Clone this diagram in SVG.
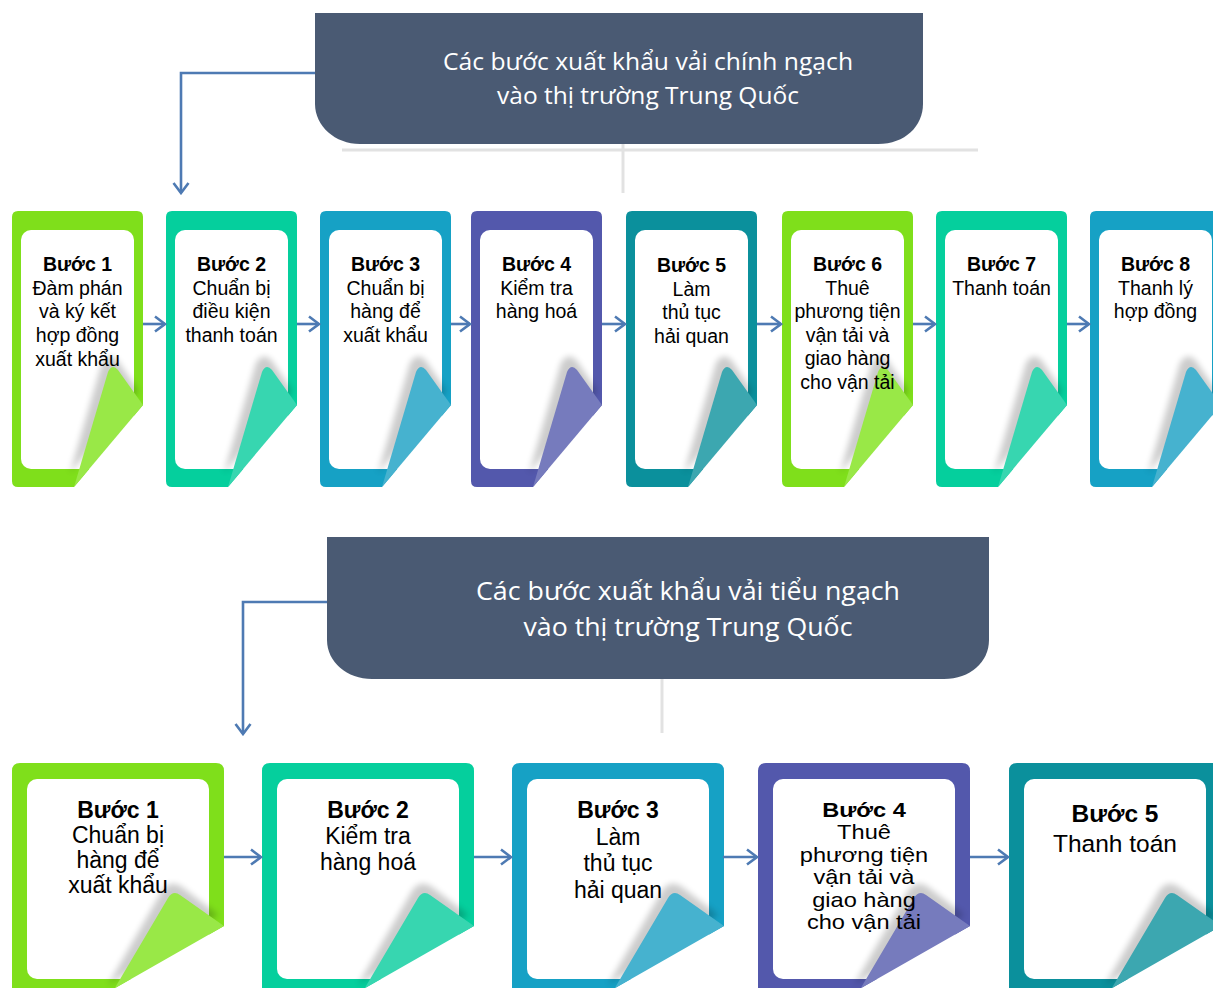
<svg xmlns="http://www.w3.org/2000/svg" width="1213" height="988" viewBox="0 0 1213 988">
<style>
.hdr{fill:#4A5A73}
.htxt{font-family:"Open Sans","Noto Sans","Liberation Sans",sans-serif;fill:#fff;text-anchor:middle}
.ct{font-family:"Liberation Sans",Arial,sans-serif;fill:#000;text-anchor:middle;font-size:19.5px}
.cb{font-family:"Liberation Sans",Arial,sans-serif;fill:#000;text-anchor:middle;font-size:23px}
.b{font-weight:bold}
.inner{fill:#fff}
.c1{fill:#7FDF1B}.f1{fill:#99E847}
.c2{fill:#05CF9D}.f2{fill:#37D6B0}
.c3{fill:#16A1C5}.f3{fill:#46B2CF}
.c4{fill:#5358AC}.f4{fill:#767BBD}
.c5{fill:#0B909C}.f5{fill:#3CA7B0}
.sh{fill:#000;opacity:.2;filter:url(#blur)}
.conn{fill:none;stroke:#4E7AB3;stroke-width:2.6}
.grey{stroke:#e2e2e2;stroke-width:3;fill:none}
</style>
<defs>
<filter id="blur" x="-50%" y="-50%" width="200%" height="200%"><feGaussianBlur stdDeviation="3"/></filter>
<marker id="chev" viewBox="-13 -9 15 18" markerWidth="15" markerHeight="18" refX="0" refY="0" orient="auto" markerUnits="userSpaceOnUse">
<path d="M-10,-7.5 L0,0 L-10,7.5" fill="none" stroke="#4E7AB3" stroke-width="2.6"/>
</marker>
<path id="tOuter" d="M6,0 H125 Q131,0 131,6 V194 L62,276 H6 Q0,276 0,270 V6 Q0,0 6,0 Z"/>
<rect id="tInner" x="9" y="19" width="113" height="239" rx="10"/>
<path id="tShadow" d="M58,262 L90,152 Q97,140 106,150 L126,180 Z"/>
<path id="tCurl" d="M62,276 L96,161 Q100,152 106,159 L131,194 Z"/>
<path id="bOuter" d="M8,0 H204 Q212,0 212,8 V163 L103,225 L77,240 H0 V8 Q0,0 8,0 Z"/>
<rect id="bInner" x="15" y="16" width="182" height="200" rx="10"/>
<path id="bShadow" d="M96,222 L150,128 Q158,116 170,124 L206,152 Z"/>
<path id="bCurl" d="M94,240 L156,135 Q161,127 168,132 L212,163 L77,240 Z"/>
</defs>

<!-- Top header -->
<g id="header-top">
<path class="grey" d="M342,150 H978"/>
<path class="grey" d="M623,144 V193"/>
<path class="hdr" d="M315,13 H923 V104 C923,126 905,144 878,144 H360 C335,144 315,126 315,104 Z"/>
<text class="htxt" x="648" y="70" font-size="24" textLength="410" lengthAdjust="spacingAndGlyphs">Các bước xuất khẩu vải chính ngạch</text>
<text class="htxt" x="648" y="104" font-size="24" textLength="302" lengthAdjust="spacingAndGlyphs">vào thị trường Trung Quốc</text>
</g>

<!-- Bottom header -->
<g id="header-bottom">
<path class="grey" d="M662,679 V733"/>
<path class="hdr" d="M327,537 H989 V640 C989,662 970,679 944,679 H372 C347,679 327,662 327,640 Z"/>
<text class="htxt" x="688" y="600" font-size="25" textLength="424" lengthAdjust="spacingAndGlyphs">Các bước xuất khẩu vải tiểu ngạch</text>
<text class="htxt" x="688" y="636" font-size="25" textLength="329" lengthAdjust="spacingAndGlyphs">vào thị trường Trung Quốc</text>
</g>

<!-- Top cards -->
<g id="t1" transform="translate(12,211)">
<use href="#tOuter" class="c1"/><use href="#tInner" class="inner"/>
<use href="#tShadow" class="sh"/><use href="#tCurl" class="f1"/>
<text class="ct" x="65.5" y="60"><tspan class="b">Bước 1</tspan><tspan x="65.5" dy="23.7">Đàm phán</tspan><tspan x="65.5" dy="23.7">và ký kết</tspan><tspan x="65.5" dy="23.7">hợp đồng</tspan><tspan x="65.5" dy="23.7">xuất khẩu</tspan></text>
</g>
<g id="t2" transform="translate(166,211)">
<use href="#tOuter" class="c2"/><use href="#tInner" class="inner"/>
<use href="#tShadow" class="sh"/><use href="#tCurl" class="f2"/>
<text class="ct" x="65.5" y="60"><tspan class="b">Bước 2</tspan><tspan x="65.5" dy="23.7">Chuẩn bị</tspan><tspan x="65.5" dy="23.7">điều kiện</tspan><tspan x="65.5" dy="23.7">thanh toán</tspan></text>
</g>
<g id="t3" transform="translate(320,211)">
<use href="#tOuter" class="c3"/><use href="#tInner" class="inner"/>
<use href="#tShadow" class="sh"/><use href="#tCurl" class="f3"/>
<text class="ct" x="65.5" y="60"><tspan class="b">Bước 3</tspan><tspan x="65.5" dy="23.7">Chuẩn bị</tspan><tspan x="65.5" dy="23.7">hàng để</tspan><tspan x="65.5" dy="23.7">xuất khẩu</tspan></text>
</g>
<g id="t4" transform="translate(471,211)">
<use href="#tOuter" class="c4"/><use href="#tInner" class="inner"/>
<use href="#tShadow" class="sh"/><use href="#tCurl" class="f4"/>
<text class="ct" x="65.5" y="60"><tspan class="b">Bước 4</tspan><tspan x="65.5" dy="23.7">Kiểm tra</tspan><tspan x="65.5" dy="23.7">hàng hoá</tspan></text>
</g>
<g id="t5" transform="translate(626,211)">
<use href="#tOuter" class="c5"/><use href="#tInner" class="inner"/>
<use href="#tShadow" class="sh"/><use href="#tCurl" class="f5"/>
<text class="ct" x="65.5" y="61"><tspan class="b">Bước 5</tspan><tspan x="65.5" dy="23.7">Làm</tspan><tspan x="65.5" dy="23.7">thủ tục</tspan><tspan x="65.5" dy="23.7">hải quan</tspan></text>
</g>
<g id="t6" transform="translate(782,211)">
<use href="#tOuter" class="c1"/><use href="#tInner" class="inner"/>
<use href="#tShadow" class="sh"/><use href="#tCurl" class="f1"/>
<text class="ct" x="65.5" y="60"><tspan class="b">Bước 6</tspan><tspan x="65.5" dy="23.5">Thuê</tspan><tspan x="65.5" dy="23.5">phương tiện</tspan><tspan x="65.5" dy="23.5">vận tải và</tspan><tspan x="65.5" dy="23.5">giao hàng</tspan><tspan x="65.5" dy="23.5">cho vận tải</tspan></text>
</g>
<g id="t7" transform="translate(936,211)">
<use href="#tOuter" class="c2"/><use href="#tInner" class="inner"/>
<use href="#tShadow" class="sh"/><use href="#tCurl" class="f2"/>
<text class="ct" x="65.5" y="60"><tspan class="b">Bước 7</tspan><tspan x="65.5" dy="23.7">Thanh toán</tspan></text>
</g>
<g id="t8" transform="translate(1090,211)">
<use href="#tOuter" class="c3"/><use href="#tInner" class="inner"/>
<use href="#tShadow" class="sh"/><use href="#tCurl" class="f3"/>
<text class="ct" x="65.5" y="60"><tspan class="b">Bước 8</tspan><tspan x="65.5" dy="23.7">Thanh lý</tspan><tspan x="65.5" dy="23.7">hợp đồng</tspan></text>
</g>

<!-- Bottom cards -->
<g id="b1" transform="translate(12,763)">
<use href="#bOuter" class="c1"/><use href="#bInner" class="inner"/>
<use href="#bShadow" class="sh"/><use href="#bCurl" class="f1"/>
<text class="cb" x="106" y="55"><tspan class="b">Bước 1</tspan><tspan x="106" dy="25">Chuẩn bị</tspan><tspan x="106" dy="25">hàng để</tspan><tspan x="106" dy="25">xuất khẩu</tspan></text>
</g>
<g id="b2" transform="translate(262,763)">
<use href="#bOuter" class="c2"/><use href="#bInner" class="inner"/>
<use href="#bShadow" class="sh"/><use href="#bCurl" class="f2"/>
<text class="cb" x="106" y="55"><tspan class="b">Bước 2</tspan><tspan x="106" dy="26">Kiểm tra</tspan><tspan x="106" dy="26">hàng hoá</tspan></text>
</g>
<g id="b3" transform="translate(512,763)">
<use href="#bOuter" class="c3"/><use href="#bInner" class="inner"/>
<use href="#bShadow" class="sh"/><use href="#bCurl" class="f3"/>
<text class="cb" x="106" y="55"><tspan class="b">Bước 3</tspan><tspan x="106" dy="26.5">Làm</tspan><tspan x="106" dy="26.5">thủ tục</tspan><tspan x="106" dy="26.5">hải quan</tspan></text>
</g>
<g id="b4" transform="translate(758,763)">
<use href="#bOuter" class="c4"/><use href="#bInner" class="inner"/>
<use href="#bShadow" class="sh"/><use href="#bCurl" class="f4"/>
<g transform="translate(106,0) scale(1.18,1) translate(-106,0)">
<text class="cb" style="font-size:20px" x="106" y="54"><tspan class="b">Bước 4</tspan><tspan x="106" dy="22.4">Thuê</tspan><tspan x="106" dy="22.4">phương tiện</tspan><tspan x="106" dy="22.4">vận tải và</tspan><tspan x="106" dy="22.4">giao hàng</tspan><tspan x="106" dy="22.4">cho vận tải</tspan></text>
</g>
</g>
<g id="b5" transform="translate(1009,763)">
<use href="#bOuter" class="c5"/><use href="#bInner" class="inner"/>
<use href="#bShadow" class="sh"/><use href="#bCurl" class="f5"/>
<text class="cb" style="font-size:24.5px" x="106" y="59"><tspan class="b">Bước 5</tspan><tspan x="106" dy="30">Thanh toán</tspan></text>
</g>

<!-- Connectors -->
<g id="connectors">
<path class="conn" d="M315,73 H181 V193" marker-end="url(#chev)"/>
<path class="conn" d="M327,602 H243 V734" marker-end="url(#chev)"/>
<path class="conn" d="M143,324 H165" marker-end="url(#chev)"/>
<path class="conn" d="M297,324 H319" marker-end="url(#chev)"/>
<path class="conn" d="M451,324 H470" marker-end="url(#chev)"/>
<path class="conn" d="M602,324 H625" marker-end="url(#chev)"/>
<path class="conn" d="M757,324 H781" marker-end="url(#chev)"/>
<path class="conn" d="M913,324 H935" marker-end="url(#chev)"/>
<path class="conn" d="M1067,324 H1089" marker-end="url(#chev)"/>
<path class="conn" d="M224,857 H261" marker-end="url(#chev)"/>
<path class="conn" d="M474,857 H511" marker-end="url(#chev)"/>
<path class="conn" d="M723,857 H757" marker-end="url(#chev)"/>
<path class="conn" d="M970,857 H1008" marker-end="url(#chev)"/>
</g>
</svg>
